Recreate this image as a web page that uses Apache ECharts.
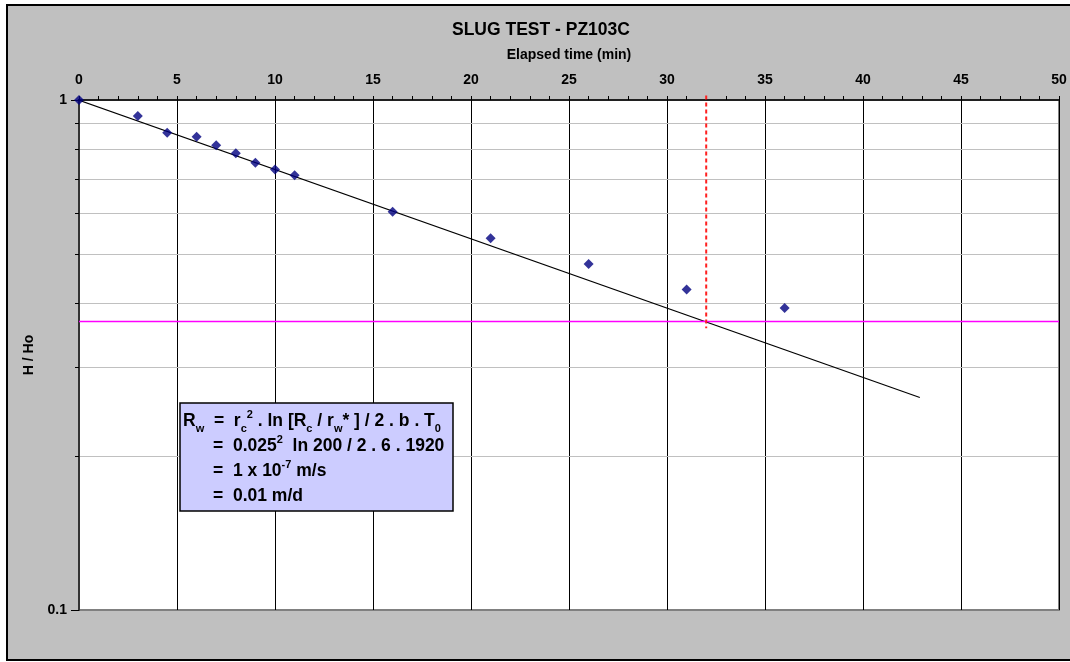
<!DOCTYPE html>
<html>
<head>
<meta charset="utf-8">
<script src="https://cdn.jsdelivr.net/npm/echarts@6/dist/echarts.min.js"></script>
<style>
html,body{margin:0;padding:0;background:#fff;}
#chart{width:1070px;height:662px;}
</style>
</head>
<body>
<div id="chart"></div>
<script>
// ---- data ----
const elapsedMin = [0, 3, 4.5, 6, 7, 8, 9, 10, 11, 16, 21, 26, 31, 36];
const hOverHo    = [1.0, 0.930, 0.863, 0.847, 0.815, 0.786, 0.753, 0.731, 0.712, 0.604, 0.536, 0.477, 0.425, 0.391];
const fitLineX   = [-0.4, 42.9];
const fitLineY   = [1.012, 0.261];
const refLevelY  = 0.368;          // magenta horizontal line (H/Ho = 0.37)
const refLevelX  = [0, 50];
const t0Line     = 32;             // red dashed vertical line (T0)
const t0LineY    = [1.02, 0.357];
const xTicks     = [0, 5, 10, 15, 20, 25, 30, 35, 40, 45, 50];
const yMinorTicks = [0.2, 0.3, 0.4, 0.5, 0.6, 0.7, 0.8, 0.9];

const FONT = '"Liberation Sans", Arial, Helvetica, sans-serif';
const chart = echarts.init(document.getElementById('chart'));

const xMin = xTicks[0], xMax = xTicks[xTicks.length - 1];

const boxLines = [
  '{m|R}{s|w}{m|  =  r}{s|c}{p|2}{m| . ln [R}{s|c}{m| / r}{s|w}{m|* ] / 2 . b . T}{s|0}',
  '{m|=  0.025}{p|2}{m|  ln 200 / 2 . 6 . 1920}',
  '{m|=  1 x 10}{p|-7}{m| m/s}',
  '{m|=  0.01 m/d}'
];
const rich = {
  m: {font: 'bold 17.5px ' + FONT, lineHeight: 25, fill: '#000'},
  s: {font: 'bold 11px ' + FONT, lineHeight: 15, verticalAlign: 'bottom', fill: '#000'},
  p: {font: 'bold 11px ' + FONT, lineHeight: 13, verticalAlign: 'top', fill: '#000'}
};
const lineX = [183, 213, 213, 213];
const lineTop = [409, 434, 459, 484];

const option = {
  backgroundColor: '#ffffff',
  animation: false,
  title: {
    text: 'SLUG TEST - PZ103C',
    left: 447, top: 16,
    textStyle: {fontFamily: FONT, fontWeight: 'bold', fontSize: 17.5, color: '#000'}
  },
  graphic: {
    elements: [
      {type: 'rect', z: -10, shape: {x: 7, y: 5, width: 1080, height: 655},
       style: {fill: '#c0c0c0', stroke: '#000', lineWidth: 2}},
      {type: 'rect', z: 100, shape: {x: 180, y: 403, width: 273, height: 108},
       style: {fill: '#ccccff', stroke: '#000', lineWidth: 1.5}}
    ].concat(boxLines.map((t, i) => ({
      type: 'text', z: 101, x: lineX[i], y: lineTop[i],
      style: {text: t, rich: rich, fill: '#000', verticalAlign: 'top', align: 'left',
              font: 'bold 17.5px ' + FONT}
    })))
  },
  grid: {
    left: 79, top: 100, width: 980, height: 510,
    show: true, backgroundColor: '#ffffff', borderColor: '#808080', borderWidth: 2
  },
  xAxis: {
    type: 'value', position: 'top', min: xMin, max: xMax, interval: 5,
    name: 'Elapsed time (min)', nameLocation: 'middle', nameGap: 38,
    nameTextStyle: {fontFamily: FONT, fontWeight: 'bold', fontSize: 14, color: '#000'},
    axisLine: {show: true, lineStyle: {color: '#000', width: 1.5}},
    axisTick: {show: true, length: 4, lineStyle: {color: '#000'}},
    minorTick: {show: true, splitNumber: 5, length: 4, lineStyle: {color: '#000'}},
    axisLabel: {fontFamily: FONT, fontWeight: 'bold', fontSize: 14, color: '#000', margin: 13},
    splitLine: {show: true, lineStyle: {color: '#000', width: 1}}
  },
  yAxis: {
    type: 'log', logBase: 10, min: 0.1, max: 1,
    name: 'H / Ho', nameLocation: 'middle', nameGap: 42, nameRotate: 90,
    nameTextStyle: {fontFamily: FONT, fontWeight: 'bold', fontSize: 14, color: '#000'},
    axisLine: {show: true, lineStyle: {color: '#333', width: 2}},
    axisTick: {show: true, length: 8, lineStyle: {color: '#000'}},
    axisLabel: {fontFamily: FONT, fontWeight: 'bold', fontSize: 14, color: '#000', margin: 12,
                formatter: v => String(v)},
    splitLine: {show: false}
  },
  series: [
    {
      type: 'custom', coordinateSystem: 'cartesian2d', silent: true, clip: false, z: 1,
      data: yMinorTicks.map(v => [xMin, v]),
      renderItem: function (params, api) {
        const v = api.value(1);
        const p0 = api.coord([xMin, v]);
        const p1 = api.coord([xMax, v]);
        const y = Math.round(p0[1]) + 0.5;
        return {type: 'group', children: [
          {type: 'line', shape: {x1: p0[0] + 1, y1: y, x2: p1[0] - 1, y2: y},
           style: {stroke: '#c0c0c0', lineWidth: 1}},
          {type: 'line', shape: {x1: p0[0] - 4, y1: y, x2: p0[0], y2: y},
           style: {stroke: '#000', lineWidth: 1}}
        ]};
      }
    },
    {
      name: 'Fit', type: 'line', symbol: 'none', clip: false, z: 3,
      data: fitLineX.map((x, i) => [x, fitLineY[i]]),
      lineStyle: {color: '#000', width: 1.2}
    },
    {
      name: 'H/Ho = 0.37', type: 'line', symbol: 'none', clip: false, z: 3,
      data: refLevelX.map(x => [x, refLevelY]),
      lineStyle: {color: '#ff00ff', width: 1.5}
    },
    {
      name: 'T0', type: 'line', symbol: 'none', clip: false, z: 3,
      data: t0LineY.map(y => [t0Line, y]),
      lineStyle: {color: '#ff2020', width: 2, type: [4, 3]}
    },
    {
      name: 'Observed', type: 'scatter', symbol: 'diamond', symbolSize: 10, z: 5,
      data: elapsedMin.map((x, i) => [x, hOverHo[i]]),
      itemStyle: {color: '#000080'}
    }
  ]
};
chart.setOption(option);
</script>
</body>
</html>
